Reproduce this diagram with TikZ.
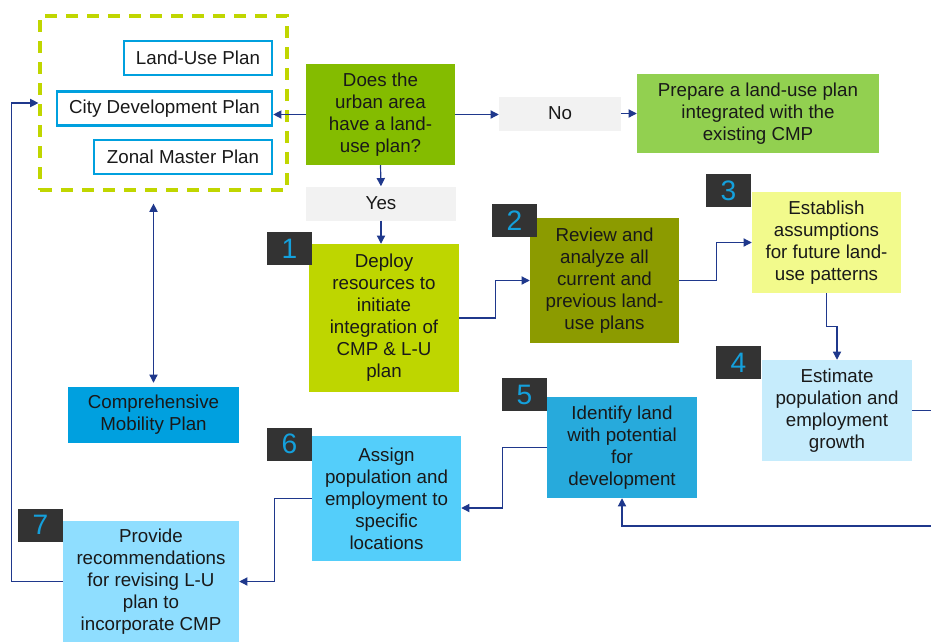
\documentclass[tikz,border=0pt]{standalone}
\usepackage{fontspec}
\setmainfont{Liberation Sans}
\usetikzlibrary{positioning, arrows.meta, calc}
\definecolor{linkblue}{RGB}{31,56,140}
\definecolor{framegreen}{RGB}{192,214,0}
\definecolor{planblue}{RGB}{0,160,222}
\definecolor{askgreen}{RGB}{132,188,0}
\definecolor{answergray}{RGB}{242,242,242}
\definecolor{prepgreen}{RGB}{146,208,80}
\definecolor{onegreen}{RGB}{190,214,0}
\definecolor{twoolive}{RGB}{140,155,0}
\definecolor{threeyellow}{RGB}{242,250,140}
\definecolor{fourblue}{RGB}{198,236,252}
\definecolor{fiveblue}{RGB}{39,170,220}
\definecolor{sixblue}{RGB}{84,206,250}
\definecolor{sevenblue}{RGB}{143,222,255}
\definecolor{cmpblue}{RGB}{0,160,223}
\definecolor{badgegray}{RGB}{51,51,51}
\definecolor{numblue}{RGB}{20,160,220}
\tikzset{
>={Triangle[length=7pt,width=7pt]}, % small solid arrow heads
every node/.style={font=\fontsize{16}{18.8}\selectfont, text=black!90, align=center, inner sep=0pt}, % Arial-like text
box/.style={rectangle, minimum width=4.5cm, minimum height=3.03cm}, % the coloured step boxes
plan/.style={rectangle, draw=planblue, line width=2.2pt, fill=white, minimum height=1.02cm}, % plans inside the frame
answer/.style={rectangle, fill=answergray, minimum height=1.02cm}, % yes / no labels
badge/.style={rectangle, fill=badgegray, text=numblue, minimum width=1.35cm, minimum height=0.99cm, font=\fontsize{24}{24}\selectfont}, % step numbers
link/.style={draw=linkblue, line width=1pt}, % connectors
}

\begin{document}
\begin{tikzpicture}[x=0.03cm, y=-0.03cm]
    \useasboundingbox (0,0) rectangle (931,642);
    \node[rectangle, draw=framegreen, line width=2.7pt, dash pattern=on 0.36cm off 0.27cm, minimum width=7.41cm, minimum height=5.22cm] (frame) at (163.5,103) {};
    \node[plan, minimum width=4.44cm] (lup) at (198,58) {Land-Use Plan};
    \node[plan, minimum width=6.45cm] (cdp) at (164.5,108.5) {City Development Plan};
    \node[plan, minimum width=5.34cm] (zmp) at (183,157) {Zonal Master Plan};
    \node[box, fill=askgreen, minimum width=4.47cm] (ask) at (380.5,114.5) {Does the\\urban area\\have a land-\\use plan?};
    \node[answer, minimum width=3.66cm] (no) at (560,113.5) {No};
    \node[box, fill=prepgreen, minimum width=7.26cm, minimum height=2.37cm] (prep) at (758,113.5) {Prepare a land-use plan\\integrated with the\\existing CMP};
    \node[answer, minimum width=4.5cm] (yes) at (381,203.5) {Yes};
    \node[box, fill=onegreen, minimum height=4.44cm] (s1) at (384,318) {Deploy\\resources to\\initiate\\integration of\\CMP \& L-U\\plan};
    \node[box, fill=twoolive, minimum width=4.47cm, minimum height=3.75cm] (s2) at (604.5,280.5) {Review and\\analyze all\\current and\\previous land-\\use plans};
    \node[box, fill=threeyellow, minimum width=4.47cm] (s3) at (826.5,242.5) {Establish\\assumptions\\for future land-\\use patterns};
    \node[box, fill=fourblue] (s4) at (837,410.5) {Estimate\\population and\\employment\\growth};
    \node[box, fill=fiveblue] (s5) at (622,447.5) {Identify land\\with potential\\for\\development};
    \node[box, fill=sixblue, minimum width=4.47cm, minimum height=3.75cm] (s6) at (386.5,498.5) {Assign\\population and\\employment to\\specific\\locations};
    \node[box, fill=sevenblue, minimum width=5.28cm, minimum height=3.63cm] (s7) at (151,581.5) {Provide\\recommendations\\for revising L-U\\plan to\\incorporate CMP};
    \node[box, fill=cmpblue, minimum width=5.13cm, minimum height=1.68cm] (cmp) at (153.5,415) {Comprehensive\\Mobility Plan};
    \node[badge] (b1) at (289.5,248.5) {1};
    \node[badge] (b2) at (514.5,220.5) {2};
    \node[badge] (b3) at (728.5,190.5) {3};
    \node[badge] (b4) at (738.5,362.5) {4};
    \node[badge] (b5) at (524.5,394.5) {5};
    \node[badge] (b6) at (289.5,444) {6};
    \node[badge] (b7) at (40.5,525) {7};
    \coordinate (turn) at (950,526);
    \draw[link, ->] (ask.west) -- (cdp.east |- ask.west);
    \draw[link, ->] (ask.east) -- (ask.east -| no.west);
    \draw[link, ->] (no.east) -- (prep.west);
    \draw[link, ->] (ask.south) -- (yes.north);
    \draw[link, ->] (yes.south) -- (yes.south |- s1.north);
    \draw[link, ->] (s1.east) -- ++(36,0) |- (s2.west);
    \draw[link, ->] (s2.east) -- ++(37,0) |- (s3.west);
    \draw[link, ->] (s3.south) -- ++(0,33) -| (s4.north);
    \draw[link, ->] (s4.east) -| (turn) -| (s5.south);
    \draw[link, ->] (s5.west) -- ++(-44,0) |- ($(s6.east)+(0,9.5)$);
    \draw[link, ->] (s6.west) -- ++(-37,0) |- (s7.east);
    \draw[link, ->] (s7.west) -- ++(-51,0) |- (frame.west);
    \draw[link, <->, shorten <=0.36cm, shorten >=0.12cm] (frame.south -| cmp.north) -- (cmp.north);
  \end{tikzpicture}
\end{document}
